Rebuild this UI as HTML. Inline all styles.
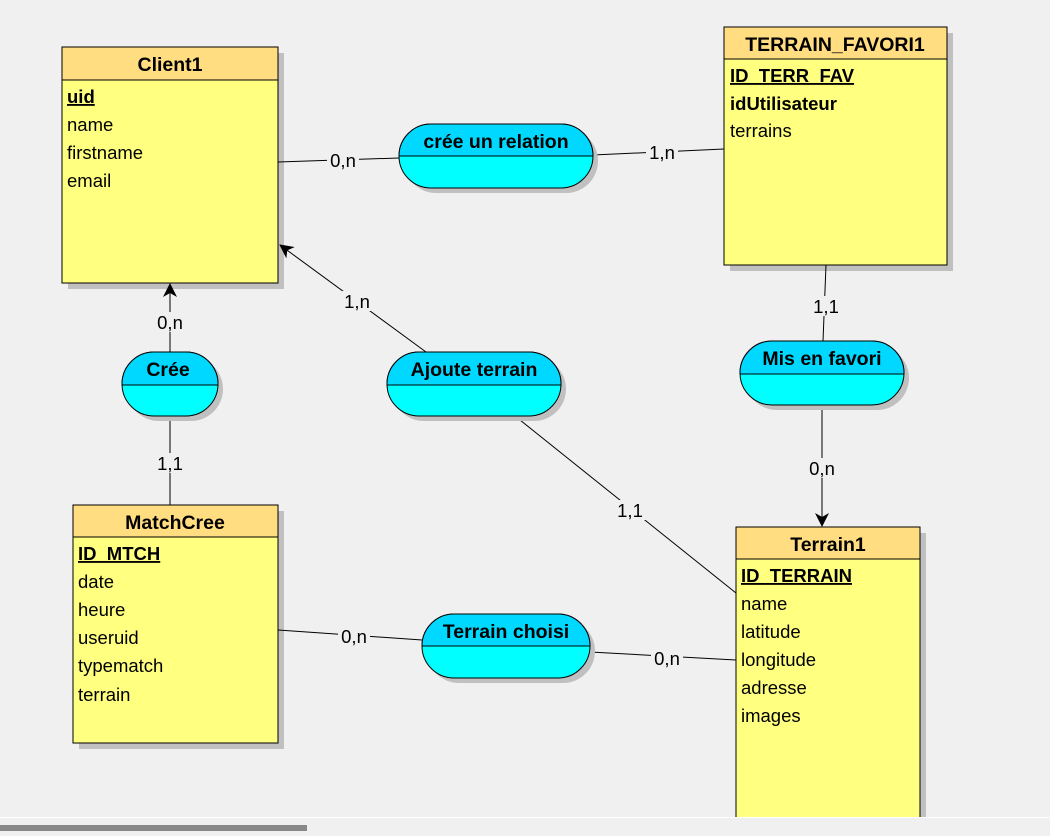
<!DOCTYPE html>
<html><head><meta charset="utf-8"><style>
html,body{margin:0;padding:0;background:#f0f0f0;width:1050px;height:836px;overflow:hidden}
svg{display:block}
text{font-family:"Liberation Sans",sans-serif;font-size:18.5px;fill:#000}
.h{font-weight:bold;font-size:19.5px}
.b{font-weight:bold}
.u{text-decoration:underline}
.lbl{font-size:18px}
</style></head><body>
<svg width="1050" height="836" viewBox="0 0 1050 836" xmlns="http://www.w3.org/2000/svg">
<defs>
<marker id="ar" markerWidth="14" markerHeight="14" refX="13" refY="7" orient="auto" markerUnits="userSpaceOnUse">
<path d="M0,0 L14,7 L0,14 L4,7 z" fill="#000"/></marker>
</defs>
<rect width="1050" height="836" fill="#f0f0f0"/>
<!-- entities -->
<g>
<rect x="68" y="53" width="216" height="236" fill="#c0c0c0"/>
<rect x="62" y="47" width="216" height="236" fill="#ffff80" stroke="#000"/>
<rect x="62" y="47" width="216" height="33" fill="#ffdd80" stroke="#000"/>
<text x="170" y="71" class="h" text-anchor="middle">Client1</text>
<text x="67" y="103" class="b u">uid</text>
<text x="67" y="131">name</text><text x="67" y="159">firstname</text><text x="67" y="187">email</text>

<rect x="730" y="33" width="223" height="238" fill="#c0c0c0"/>
<rect x="724" y="27" width="223" height="238" fill="#ffff80" stroke="#000"/>
<rect x="724" y="27" width="223" height="32" fill="#ffdd80" stroke="#000"/>
<text x="835" y="51" class="h" text-anchor="middle">TERRAIN_FAVORI1</text>
<text x="730" y="82" class="b u">ID_TERR_FAV</text>
<text x="730" y="110" class="b">idUtilisateur</text>
<text x="730" y="137">terrains</text>

<rect x="79" y="511" width="205" height="238" fill="#c0c0c0"/>
<rect x="73" y="505" width="205" height="238" fill="#ffff80" stroke="#000"/>
<rect x="73" y="505" width="205" height="32" fill="#ffdd80" stroke="#000"/>
<text x="175" y="529" class="h" text-anchor="middle">MatchCree</text>
<text x="78" y="560" class="b u">ID_MTCH</text>
<text x="78" y="588">date</text><text x="78" y="616">heure</text><text x="78" y="644">useruid</text><text x="78" y="672">typematch</text><text x="78" y="701">terrain</text>

<rect x="742" y="533" width="184" height="284" fill="#c0c0c0"/>
<rect x="736" y="527" width="184" height="300" fill="#ffff80" stroke="#000"/>
<rect x="736" y="527" width="184" height="32" fill="#ffdd80" stroke="#000"/>
<text x="828" y="551" class="h" text-anchor="middle">Terrain1</text>
<text x="741" y="582" class="b u">ID_TERRAIN</text>
<text x="741" y="610">name</text><text x="741" y="638">latitude</text><text x="741" y="666">longitude</text><text x="741" y="694">adresse</text><text x="741" y="722">images</text>
</g>
<!-- lines -->
<g stroke="#000" stroke-width="1" fill="none">
<line x1="278" y1="162" x2="399" y2="158"/>
<line x1="593" y1="155" x2="724" y2="149"/>
<line x1="826" y1="265" x2="823" y2="341"/>
<line x1="822" y1="405" x2="822" y2="526" marker-end="url(#ar)"/>
<line x1="170" y1="352" x2="170" y2="284" marker-end="url(#ar)"/>
<line x1="170" y1="416" x2="170" y2="505"/>
<line x1="426" y1="352" x2="280" y2="245" marker-end="url(#ar)"/>
<line x1="515" y1="416" x2="736" y2="593"/>
<line x1="278" y1="630" x2="422" y2="640"/>
<line x1="590" y1="652" x2="736" y2="660"/>
</g>
<g class="lbl" text-anchor="middle">
<rect x="327" y="150" width="32" height="20" fill="#f0f0f0"/><text x="343" y="167">0,n</text>
<rect x="646" y="142" width="32" height="20" fill="#f0f0f0"/><text x="662" y="159">1,n</text>
<rect x="810" y="296" width="32" height="20" fill="#f0f0f0"/><text x="826" y="313">1,1</text>
<rect x="806" y="458" width="32" height="20" fill="#f0f0f0"/><text x="822" y="475">0,n</text>
<rect x="154" y="312" width="32" height="20" fill="#f0f0f0"/><text x="170" y="329">0,n</text>
<rect x="154" y="453" width="32" height="20" fill="#f0f0f0"/><text x="170" y="470">1,1</text>
<rect x="341" y="291" width="32" height="20" fill="#f0f0f0"/><text x="357" y="308">1,n</text>
<rect x="614" y="500" width="32" height="20" fill="#f0f0f0"/><text x="630" y="517">1,1</text>
<rect x="338" y="626" width="32" height="20" fill="#f0f0f0"/><text x="354" y="643">0,n</text>
<rect x="651" y="648" width="32" height="20" fill="#f0f0f0"/><text x="667" y="665">0,n</text>
</g>
<!-- relations -->
<g>
<rect x="404" y="129" width="194" height="64" rx="32" fill="#c0c0c0"/>
<rect x="399" y="124" width="194" height="64" rx="32" fill="#00ffff" stroke="#000"/>
<path d="M399,156 A32,32 0 0 1 431,124 L561,124 A32,32 0 0 1 593,156 Z" fill="#00d8ff" stroke="#000"/>
<text x="496" y="148" class="h" text-anchor="middle">crée un relation</text>

<rect x="127" y="357" width="96" height="64" rx="32" fill="#c0c0c0"/>
<rect x="122" y="352" width="96" height="64" rx="32" fill="#00ffff" stroke="#000"/>
<path d="M122,385 A32,32 0 0 1 154,352 L186,352 A32,32 0 0 1 218,385 Z" fill="#00d8ff" stroke="#000"/>
<text x="168" y="376" class="h" text-anchor="middle">Crée</text>

<rect x="392" y="357" width="174" height="64" rx="32" fill="#c0c0c0"/>
<rect x="387" y="352" width="174" height="64" rx="32" fill="#00ffff" stroke="#000"/>
<path d="M387,385 A32,32 0 0 1 419,352 L529,352 A32,32 0 0 1 561,385 Z" fill="#00d8ff" stroke="#000"/>
<text x="474" y="376" class="h" text-anchor="middle">Ajoute terrain</text>

<rect x="745" y="346" width="164" height="64" rx="32" fill="#c0c0c0"/>
<rect x="740" y="341" width="164" height="64" rx="32" fill="#00ffff" stroke="#000"/>
<path d="M740,374 A32,32 0 0 1 772,341 L872,341 A32,32 0 0 1 904,374 Z" fill="#00d8ff" stroke="#000"/>
<text x="822" y="365" class="h" text-anchor="middle">Mis en favori</text>

<rect x="427" y="619" width="168" height="64" rx="32" fill="#c0c0c0"/>
<rect x="422" y="614" width="168" height="64" rx="32" fill="#00ffff" stroke="#000"/>
<path d="M422,646 A32,32 0 0 1 454,614 L558,614 A32,32 0 0 1 590,646 Z" fill="#00d8ff" stroke="#000"/>
<text x="506" y="638" class="h" text-anchor="middle">Terrain choisi</text>
</g>
<rect x="0" y="817" width="1050" height="19" fill="#f0f0f0"/>
<line x1="0" y1="817.5" x2="1050" y2="817.5" stroke="#fff"/>
<rect x="0" y="825" width="307" height="6" fill="#888"/>
</svg>
</body></html>
